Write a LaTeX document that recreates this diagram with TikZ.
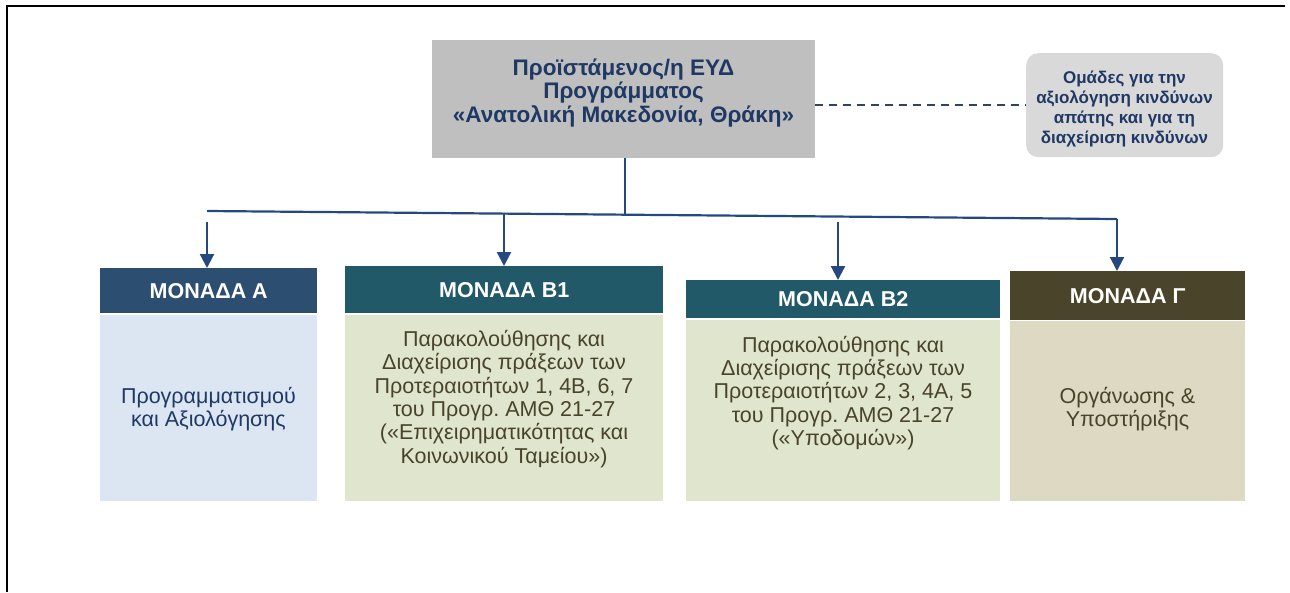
\documentclass[tikz,border=0pt]{standalone}
\usepackage{fontspec}
\setmainfont{Liberation Sans}
\usetikzlibrary{arrows.meta}
\definecolor{boxgray}{HTML}{BFBFBF}
\definecolor{riskgray}{HTML}{D9D9D9}
\definecolor{navy}{HTML}{1F3864}
\definecolor{conn}{HTML}{24487F}
\definecolor{hdrA}{HTML}{2C4E70}
\definecolor{hdrB}{HTML}{215968}
\definecolor{hdrG}{HTML}{4A452A}
\definecolor{bodyA}{HTML}{DCE6F2}
\definecolor{bodyB}{HTML}{E0E5CE}
\definecolor{bodyG}{HTML}{DDD9C3}
\definecolor{olivetext}{HTML}{494429}
\definecolor{dashcol}{HTML}{2E4562}
\frenchspacing
\tikzset{
  boxnode/.style={rectangle, inner sep=0pt, anchor=north west},
  hdrbox/.style={boxnode, text=white, font=\bfseries\fontsize{21.5}{24}\selectfont},
  btext/.style={align=center, inner sep=0pt, font=\fontsize{21.5}{23.4}\selectfont},
  conline/.style={draw=conn, line width=2.2pt},
  conarrow/.style={conline, -{Triangle[width=14pt,length=14pt]}},
  dashline/.style={draw=dashcol, line width=2pt, dash pattern=on 8pt off 6pt},
}
\begin{document}
\begin{tikzpicture}[x=1pt,y=-1pt]
\useasboundingbox (0,0) rectangle (1290,592);
\draw[line width=2.8pt] (7,592) -- (7,6) -- (1285,6);

\node[boxnode, fill=boxgray, minimum width=383pt, minimum height=118pt] (top) at (432,40) {};
\node[align=center, inner sep=0pt, text=navy, font=\bfseries\fontsize{22.5}{23.5}\selectfont] (toptext) at (623.5,93)
  {Προϊστάμενος/η ΕΥΔ\\Προγράμματος\\«Ανατολική Μακεδονία, Θράκη»};

\node[boxnode, fill=riskgray, rounded corners=12pt, minimum width=197pt, minimum height=104pt] (risk) at (1026,53) {};
\node[align=center, inner sep=0pt, text=navy, font=\bfseries\fontsize{17}{20}\selectfont] (risktext) at (1124.5,109)
  {Ομάδες για την\\αξιολόγηση κινδύνων\\απάτης και για τη\\διαχείριση κινδύνων};

\node[hdrbox, fill=hdrA, minimum width=217pt, minimum height=45pt] (hA) at (100,268) {ΜΟΝΑΔΑ Α};
\node[boxnode, fill=bodyA, minimum width=217pt, minimum height=186pt] (bA) at (100,315) {};
\node[btext, text=navy] (tA) at (208.5,409) {Προγραμματισμού\\και Αξιολόγησης};

\node[hdrbox, fill=hdrB, minimum width=318pt, minimum height=47pt] (hB1) at (345,266) {ΜΟΝΑΔΑ Β1};
\node[boxnode, fill=bodyB, minimum width=318pt, minimum height=186pt] (bB1) at (345,315) {};
\node[btext, text=olivetext] (tB1) at (504,399) {Παρακολούθησης και\\Διαχείρισης πράξεων των\\Προτεραιοτήτων 1, 4Β, 6, 7\\του Προγρ.\ ΑΜΘ 21-27\\(«Επιχειρηματικότητας και\\Κοινωνικού Ταμείου»)};

\node[hdrbox, fill=hdrB, minimum width=314pt, minimum height=38pt] (hB2) at (686,280) {ΜΟΝΑΔΑ Β2};
\node[boxnode, fill=bodyB, minimum width=314pt, minimum height=181pt] (bB2) at (686,320) {};
\node[btext, text=olivetext] (tB2) at (843,393) {Παρακολούθησης και\\Διαχείρισης πράξεων των\\Προτεραιοτήτων 2, 3, 4Α, 5\\του Προγρ.\ ΑΜΘ 21-27\\(«Υποδομών»)};

\node[hdrbox, fill=hdrG, minimum width=235pt, minimum height=49pt] (hG) at (1010,271) {ΜΟΝΑΔΑ Γ};
\node[boxnode, fill=bodyG, minimum width=235pt, minimum height=180pt] (bG) at (1010,321) {};
\node[btext, text=olivetext] (tG) at (1127.5,409) {Οργάνωσης \&\\Υποστήριξης};

% connectors
\draw[dashline] (top.east |- risk.west) -- (risk.west);
\coordinate (barL) at (207,211);
\coordinate (barR) at (1117,219);
\coordinate (barM) at (625,214.7);
\coordinate (barB1) at (504,213.6);
\coordinate (startA) at (207,222);
\coordinate (startB2) at (838,222);
\draw[conline] (top.south -| barM) -- (barM);
\draw[conline] (barL) -- (barR);
\draw[conarrow] (barR) -- (barR |- hG.north);
\draw[conarrow] (startA) -- (startA |- hA.north);
\draw[conarrow] (barB1) -- (barB1 |- hB1.north);
\draw[conarrow] (startB2) -- (startB2 |- hB2.north);
\end{tikzpicture}
\end{document}
